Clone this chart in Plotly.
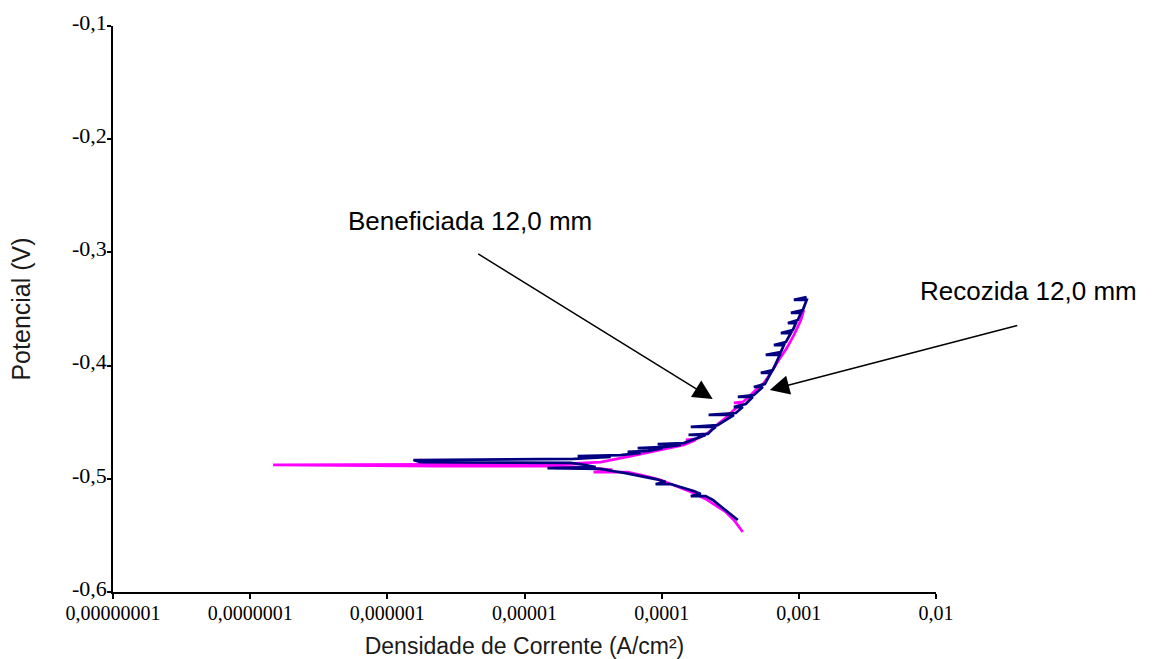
import plotly.graph_objects as go

# ---- Data ----
# Beneficiada 12,0 mm (navy): potential sweep from the cathodic end to the anodic end
beneficiada_E = [
    -0.5364, -0.5311, -0.5258, -0.5187, -0.5152, -0.5152, -0.5134, -0.5108,
    -0.5072, -0.5046, -0.5046, -0.5028, -0.5002, -0.4975, -0.4949, -0.4931,
    -0.4913, -0.4905, -0.4896, -0.4878, -0.4860, -0.4852, -0.4834, -0.4825,
    -0.4807, -0.4799, -0.4790, -0.4772, -0.4763, -0.4754, -0.4728, -0.4728,
    -0.4719, -0.4701, -0.4693, -0.4684, -0.4657, -0.4613, -0.4613, -0.4604,
    -0.4569, -0.4542, -0.4542, -0.4525, -0.4481, -0.4436, -0.4436, -0.4419,
    -0.4366, -0.4366, -0.4339, -0.4277, -0.4277, -0.4260, -0.4189, -0.4189,
    -0.4163, -0.4065, -0.4065, -0.4039, -0.3906, -0.3906, -0.3880, -0.3818,
    -0.3818, -0.3792, -0.3712, -0.3712, -0.3686, -0.3624, -0.3624, -0.3597,
    -0.3535, -0.3535, -0.3509, -0.3420, -0.3420, -0.3394,
]
beneficiada_i = [
    3.59e-4, 3.19e-4, 2.79e-4, 2.36e-4, 2.09e-4, 1.63e-4, 1.93e-4, 1.71e-4,
    1.38e-4, 1.16e-4, 9.03e-5, 1.07e-4, 9.03e-5, 7.03e-5, 5.46e-5, 4.38e-5,
    3.59e-5, 1.47e-5, 3.30e-5, 2.79e-5, 2.17e-5, 1.74e-6, 1.55e-6, 2.28e-5,
    4.25e-5, 2.44e-5, 5.02e-5, 7.03e-5, 5.65e-5, 8.04e-5, 1.02e-4, 6.68e-5,
    1.07e-4, 1.38e-4, 9.35e-5, 1.45e-4, 1.68e-4, 2.09e-4, 1.57e-4, 2.17e-4,
    2.32e-4, 2.48e-4, 1.63e-4, 2.56e-4, 2.93e-4, 3.36e-4, 2.20e-4, 3.47e-4,
    3.90e-4, 3.36e-4, 4.10e-4, 4.61e-4, 3.59e-4, 4.70e-4, 5.46e-4, 4.70e-4,
    5.65e-4, 6.25e-4, 5.28e-4, 6.46e-4, 7.26e-4, 5.74e-4, 7.39e-4, 7.78e-4,
    6.58e-4, 8.04e-4, 8.75e-4, 7.39e-4, 9.04e-4, 9.51e-4, 8.32e-4, 9.84e-4,
    1.035e-3, 8.75e-4, 1.07e-3, 1.14e-3, 9.20e-4, 1.14e-3,
]

# Recozida 12,0 mm (magenta)
recozida_E = [
    -0.5470, -0.5364, -0.5293, -0.5249, -0.5178, -0.5125, -0.5072, -0.5011,
    -0.4975, -0.4940, -0.4940, -0.4922, -0.4905, -0.4887, -0.4887, -0.4878,
    -0.4869, -0.4852, -0.4799, -0.4763, -0.4728, -0.4701, -0.4657, -0.4657,
    -0.4648, -0.4595, -0.4525, -0.4454, -0.4392, -0.4330, -0.4330, -0.4321,
    -0.4277, -0.4216, -0.4154, -0.4065, -0.3951, -0.3845, -0.3730, -0.3597,
    -0.3509,
]
recozida_i = [
    3.90e-4, 3.36e-4, 2.93e-4, 2.56e-4, 2.09e-4, 1.71e-4, 1.31e-4, 9.84e-5,
    7.64e-5, 5.65e-5, 3.19e-5, 4.38e-5, 3.19e-5, 1.93e-5, 2.24e-6, 1.47e-7,
    1.93e-5, 3.59e-5, 5.94e-5, 8.32e-5, 1.12e-4, 1.45e-4, 1.77e-4, 1.50e-4,
    1.80e-4, 2.17e-4, 2.52e-4, 2.98e-4, 3.36e-4, 3.84e-4, 3.36e-4, 3.90e-4,
    4.32e-4, 4.85e-4, 5.56e-4, 6.25e-4, 7.14e-4, 8.17e-4, 9.20e-4, 1.035e-3,
    1.086e-3,
]

x_tickvals = [1e-8, 1e-7, 1e-6, 1e-5, 1e-4, 1e-3, 1e-2]
x_ticktext = ["0,00000001", "0,0000001", "0,000001", "0,00001", "0,0001", "0,001", "0,01"]
y_tickvals = [-0.6, -0.5, -0.4, -0.3, -0.2, -0.1]
y_ticktext = ["-0,6", "-0,5", "-0,4", "-0,3", "-0,2", "-0,1"]

fig = go.Figure()
fig.add_trace(go.Scatter(x=recozida_i, y=recozida_E, mode="lines",
                         name="Recozida 12,0 mm",
                         line=dict(color="#FF00FF", width=2.75)))
fig.add_trace(go.Scatter(x=beneficiada_i, y=beneficiada_E, mode="lines",
                         name="Beneficiada 12,0 mm",
                         line=dict(color="#000080", width=2.75)))

x_tick_font = dict(family="Liberation Serif", size=20, color="#000000")
y_tick_font = dict(family="Liberation Serif", size=22, color="#000000")
x_title_font = dict(family="Liberation Sans", size=23, color="#1a1a1a")
y_title_font = dict(family="Liberation Sans", size=25, color="#1a1a1a")

fig.update_layout(
    width=1158, height=659,
    margin=dict(l=113, r=222, t=26, b=67),
    paper_bgcolor="white", plot_bgcolor="white",
    showlegend=False,
    xaxis=dict(type="log", range=[-8, -2], tickvals=x_tickvals, ticktext=x_ticktext,
               automargin=False,
               showgrid=False, zeroline=False, showline=True, linecolor="#000",
               linewidth=1.5, ticks="outside", ticklen=5, tickwidth=1.5, tickcolor="#000",
               tickfont=x_tick_font, ticklabelstandoff=-3,
               title=dict(text="Densidade de Corrente (A/cm²)", font=x_title_font, standoff=16)),
    yaxis=dict(range=[-0.6, -0.1], tickvals=y_tickvals, ticktext=y_ticktext,
               automargin=False,
               showgrid=False, zeroline=False, showline=True, linecolor="#000",
               linewidth=1.5, ticks="outside", ticklen=4, tickwidth=1.5, tickcolor="#000",
               tickfont=y_tick_font, ticklabelstandoff=-4, ticklabelshift=-4,
               title=dict(text="Potencial (V)", font=y_title_font, standoff=34)),
)

ann_font = dict(family="Liberation Sans", size=26, color="#000000")
fig.add_annotation(x=-3.628, y=-0.4295, xref="x", yref="y", ax=-236, ay=-146,
                   showarrow=True, arrowhead=2, arrowsize=2.6, arrowwidth=1.5,
                   arrowcolor="#000", standoff=0, text="")
fig.add_annotation(x=-3.212, y=-0.4216, xref="x", yref="y", ax=249, ay=-65,
                   showarrow=True, arrowhead=2, arrowsize=2.6, arrowwidth=1.5,
                   arrowcolor="#000", standoff=0, text="")
fig.add_annotation(x=0.2831, y=0.655, xref="paper", yref="paper", xanchor="left",
                   yanchor="middle", showarrow=False, text="Beneficiada 12,0 mm", font=ann_font)
fig.add_annotation(x=0.9782, y=0.532, xref="paper", yref="paper", xanchor="left",
                   yanchor="middle", showarrow=False, text="Recozida 12,0 mm", font=ann_font)

fig.write_html("out.html")
